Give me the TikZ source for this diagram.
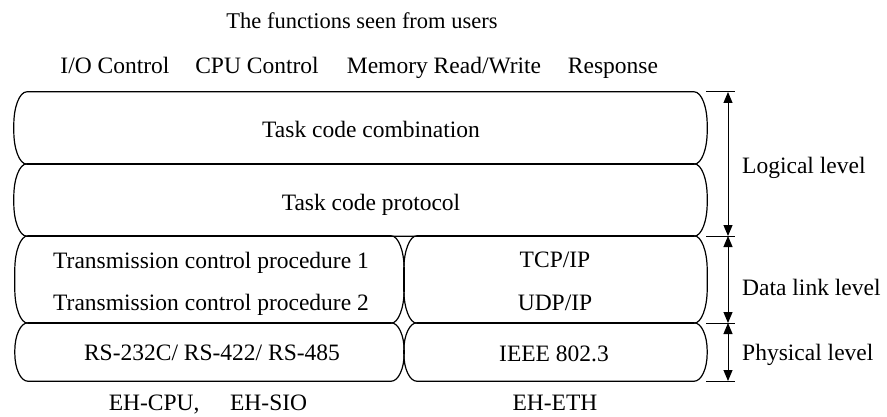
\documentclass[tikz,border=0pt]{standalone}
\usepackage{fontspec}
\setmainfont{Liberation Serif}
\usetikzlibrary{arrows.meta}
\newcommand{\layerbox}[2]{%
  \draw[boxline] ([xshift=13pt]#1.north west) -- ([xshift=-13pt]#1.north east)
    arc[start angle=90,end angle=0,x radius=13pt,y radius=#2]
    -- ([yshift=#2]#1.south east)
    arc[start angle=0,end angle=-90,x radius=13pt,y radius=#2]
    -- ([xshift=13pt]#1.south west)
    arc[start angle=270,end angle=180,x radius=13pt,y radius=#2]
    -- ([yshift=-#2]#1.north west)
    arc[start angle=180,end angle=90,x radius=13pt,y radius=#2] -- cycle;}
\begin{document}
\begin{tikzpicture}[x=1pt,y=1pt,
  every node/.style={font=\fontsize{23.5}{28}\selectfont},
  txt/.style={anchor=base, inner sep=0pt},
  lbl/.style={anchor=base west, inner sep=0pt},
  layer/.style={draw=none, inner sep=0pt, minimum width=#1},
  boxline/.style={line width=1.2pt, line join=round},
  tick/.style={line width=1pt},
  dim/.style={line width=1pt, {Triangle[length=11pt,width=9pt]}-{Triangle[length=11pt,width=9pt]}}]
\useasboundingbox (0,0) rectangle (887,416);
% layer boxes
\node[layer=693pt, minimum height=72pt] (b1) at (360.5,288) {};
\node[layer=693pt, minimum height=72pt] (b2) at (360.5,216) {};
\node[layer=389pt, minimum height=87pt] (b3l) at (209.5,136.5) {};
\node[layer=303pt, minimum height=87pt] (b3r) at (555.5,136.5) {};
\node[layer=389pt, minimum height=58pt] (b4l) at (209.5,64) {};
\node[layer=303pt, minimum height=58pt] (b4r) at (555.5,64) {};
\layerbox{b1}{33pt}
\layerbox{b2}{33pt}
\layerbox{b3l}{34pt}
\layerbox{b3r}{34pt}
\layerbox{b4l}{28pt}
\layerbox{b4r}{28pt}
% top texts
\node[txt, font=\fontsize{22.5}{27}\selectfont] (title) at (362,387) {The functions seen from users};
\node[txt] (io) at (115,342) {I/O Control};
\node[txt] (cpu) at (257,342) {CPU Control};
\node[txt] (mem) at (444,342) {Memory Read/Write};
\node[txt] (resp) at (613,342) {Response};
% box texts
\node[txt] (tcc) at (371,279) {Task code combination};
\node[txt] (tcp) at (371,206) {Task code protocol};
\node[txt] (tr1) at (211,148) {Transmission control procedure 1};
\node[txt] (tr2) at (211,106) {Transmission control procedure 2};
\node[txt] (tcpip) at (555,149) {TCP/IP};
\node[txt] (udpip) at (555,106) {UDP/IP};
\node[txt] (rs) at (212,56) {RS-232C/ RS-422/ RS-485};
\node[txt] (ieee) at (554,55) {IEEE 802.3};
\node[txt] (ehcpu) at (208,6) {EH-CPU,\hspace{1.3em}EH-SIO};
\node[txt] (eheth) at (555,6) {EH-ETH};
% level marks
\coordinate (t1a) at (706,324); \coordinate (t1b) at (735,324);
\coordinate (t2a) at (706,180); \coordinate (t2b) at (735,180);
\coordinate (t3a) at (706,93);  \coordinate (t3b) at (735,93);
\coordinate (t4a) at (706,35);  \coordinate (t4b) at (735,35);
\draw[tick] (t1a) -- (t1b);
\draw[tick] (t2a) -- (t2b);
\draw[tick] (t3a) -- (t3b);
\draw[tick] (t4a) -- (t4b);
\coordinate (a1) at (728,324);
\coordinate (a2) at (728,180);
\coordinate (a3) at (728,93);
\coordinate (a4) at (728,35);
\draw[dim] (a1) -- (a2);
\draw[dim] (a2) -- (a3);
\draw[dim] (a3) -- (a4);
\node[lbl] (logical) at (742,243) {Logical level};
\node[lbl] (datalink) at (742,121) {Data link level};
\node[lbl] (physical) at (742,56) {Physical level};
\end{tikzpicture}
\end{document}
